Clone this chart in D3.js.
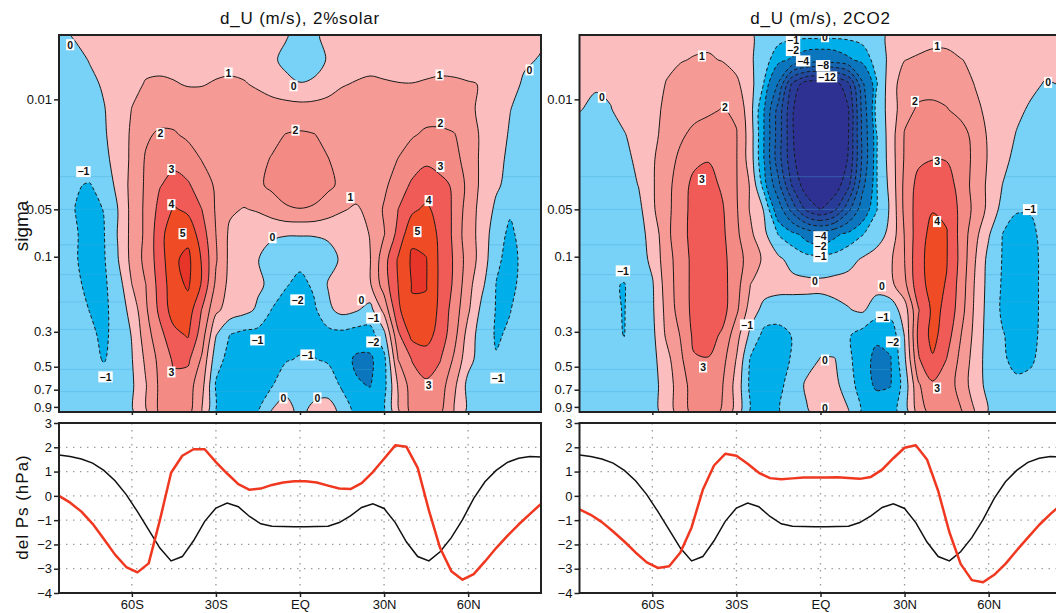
<!DOCTYPE html>
<html>
<head>
<meta charset="utf-8">
<script src="https://cdn.jsdelivr.net/npm/d3@7"></script>
<style>
  body { margin: 0; background: #fff; }
  svg { display: block; }
  text { font-family: "Liberation Sans", Arial, sans-serif; }
</style>
</head>
<body>
<svg id="chart" width="1056" height="613"></svg>
<script>
// ---- data ----
// zonal-mean wind change grid: columns = latitudes, rows = sigma levels (top -> bottom)
const lats = [-86, -80, -75, -70, -65, -60, -55, -50, -45, -40, -35, -30, -25, -20, -15, -10, -5, 0,
  5, 10, 15, 20, 25, 30, 35, 40, 45, 50, 55, 60, 65, 70, 75, 80, 86]
const sigmas = [0.0039, 0.0056, 0.008, 0.0116, 0.0167, 0.024, 0.035, 0.05, 0.072, 0.104, 0.15, 0.218, 0.314, 0.45, 0.65, 0.97]

const solarU = [
  [-0.25, 0.1, 0.3, 0.4, 0.45, 0.5, 0.55, 0.55, 0.55, 0.55, 0.55, 0.55, 0.55, 0.55, 0.55, 0.45, 0.1, -0.5, -0.25, 0.35, 0.55, 0.55, 0.55, 0.55, 0.55, 0.55, 0.55, 0.55, 0.55, 0.55, 0.5, 0.45, 0.35, 0.25, 0.1],
  [-0.5, -0.25, 0.05, 0.35, 0.55, 0.7, 0.8, 0.8, 0.75, 0.75, 0.8, 0.8, 0.8, 0.75, 0.6, 0.2, -0.3, -0.6, -0.5, 0.1, 0.55, 0.7, 0.8, 0.8, 0.75, 0.8, 0.8, 0.8, 0.75, 0.65, 0.5, 0.35, 0.2, 0.1, -0.05],
  [-0.7, -0.45, -0.2, 0.1, 0.45, 0.8, 1.05, 1.1, 1.05, 0.95, 0.97, 1.05, 1.1, 1.05, 0.9, 0.6, 0.3, 0.05, 0.2, 0.6, 0.95, 1.05, 1.1, 1.05, 1.02, 1.01, 1.05, 1.1, 1.1, 1.05, 0.97, 0.65, 0.25, -0.1, -0.4],
  [-0.75, -0.6, -0.3, -0.05, 0.45, 1.02, 1.3, 1.5, 1.55, 1.45, 1.3, 1.25, 1.3, 1.35, 1.35, 1.4, 1.4, 1.4, 1.4, 1.4, 1.35, 1.35, 1.3, 1.3, 1.45, 1.55, 1.6, 1.5, 1.35, 1.15, 0.85, 0.45, 0.02, -0.35, -0.6],
  [-0.8, -0.65, -0.35, -0.1, 0.4, 1.15, 1.85, 2.15, 2.1, 1.8, 1.5, 1.35, 1.4, 1.5, 1.65, 1.8, 2.02, 2.1, 2.02, 1.8, 1.6, 1.45, 1.35, 1.4, 1.6, 1.9, 2.15, 2.2, 2.05, 1.45, 0.85, 0.45, -0.1, -0.5, -0.75],
  [-0.8, -0.75, -0.45, -0.2, 0.3, 1.2, 2.1, 2.5, 2.75, 2.5, 1.95, 1.5, 1.4, 1.55, 1.8, 2.05, 2.3, 2.4, 2.3, 2.02, 1.75, 1.5, 1.4, 1.55, 2.02, 2.5, 2.85, 2.7, 2.35, 1.55, 0.8, 0.35, -0.25, -0.55, -0.7],
  [-0.7, -0.95, -1.05, -0.6, 0.25, 1.3, 2.15, 2.95, 3.3, 3.1, 2.55, 1.85, 1.6, 1.6, 1.85, 2.2, 2.4, 2.45, 2.4, 2.2, 1.8, 1.55, 1.5, 1.8, 2.5, 3.15, 3.4, 3.2, 2.9, 1.7, 0.75, 0.15, -0.3, -0.55, -0.6],
  [-0.65, -1.02, -1.2, -0.98, 0.0, 1.3, 2.2, 3.3, 4.1, 3.8, 3.0, 1.9, 1.15, 0.95, 1.1, 1.5, 1.9, 1.98, 1.9, 1.5, 1.1, 0.85, 1.3, 2.1, 3.0, 3.8, 4.2, 3.6, 2.85, 1.5, 0.65, -0.2, -0.9, -0.65, -0.6],
  [-0.6, -0.95, -1.25, -1.05, 0.05, 1.3, 2.2, 3.6, 4.8, 4.7, 3.5, 2.0, 0.8, 0.5, 0.25, 0.1, 0.05, 0.05, 0.05, 0.1, 0.2, 0.45, 1.05, 1.95, 3.3, 4.8, 4.6, 3.8, 2.8, 1.35, 0.7, -0.7, -1.15, -0.7, -0.55],
  [-0.6, -0.95, -1.3, -1.1, -0.05, 1.3, 2.3, 3.5, 4.85, 5.25, 3.9, 2.1, 0.75, 0.35, 0.02, -0.3, -0.6, -0.65, -0.5, -0.25, 0.1, 0.45, 0.95, 2.6, 4.1, 5.15, 5.05, 3.8, 2.9, 1.55, 0.6, -0.85, -1.25, -0.8, -0.6],
  [-0.55, -0.85, -1.2, -1.15, -0.5, 1.0, 2.0, 3.4, 4.6, 5.15, 3.9, 1.8, 0.7, 0.4, 0.15, -0.2, -0.9, -1.35, -0.8, 0.05, 0.3, 0.55, 0.9, 2.5, 4.0, 5.05, 5.05, 3.8, 2.85, 1.35, 0.2, -1.02, -1.2, -0.75, -0.6],
  [-0.5, -0.75, -1.02, -1.2, -0.6, 0.35, 1.85, 3.25, 4.5, 4.55, 2.95, 1.2, 0.6, 0.3, -0.15, -1.05, -1.55, -1.6, -1.2, -0.2, 0.3, 0.1, -0.35, 1.3, 3.8, 4.9, 4.85, 3.75, 2.55, 1.15, -0.3, -1.05, -1.02, -0.7, -0.6],
  [-0.45, -0.65, -0.85, -1.15, -0.7, 0.05, 1.55, 2.7, 3.7, 4.1, 2.5, 0.05, -1.02, -1.3, -1.35, -1.3, -1.35, -1.45, -1.5, -1.35, -1.3, -1.5, -1.4, -0.3, 2.8, 4.3, 4.4, 3.6, 2.35, 0.6, -0.55, -1.08, -0.9, -0.7, -0.55],
  [-0.4, -0.55, -0.75, -1.05, -0.7, -0.05, 1.2, 2.3, 3.15, 3.2, 1.85, -0.6, -1.35, -1.4, -1.35, -1.25, -1.1, -0.9, -0.95, -1.15, -1.6, -2.15, -2.2, -1.3, 2.0, 3.05, 3.5, 3.05, 1.85, 0.35, -0.5, -0.95, -0.85, -0.6, -0.5],
  [-0.35, -0.45, -0.55, -0.65, -0.5, -0.15, 0.95, 2.2, 2.7, 2.45, 1.35, -1.1, -1.4, -1.45, -1.35, -1.1, -0.2, -0.35, -0.3, -0.3, -1.2, -1.9, -2.05, -1.35, 1.1, 2.5, 2.85, 2.5, 1.25, -0.3, -0.45, -0.6, -0.55, -0.45, -0.4],
  [-0.35, -0.4, -0.45, -0.45, -0.4, -0.15, 0.85, 2.15, 2.55, 2.3, 0.95, -1.2, -1.35, -1.3, -1.1, 0.1, 0.25, -0.2, 0.2, 0.3, -0.2, -1.4, -1.5, -1.3, 0.8, 2.3, 2.6, 2.15, 0.9, -0.25, -0.4, -0.45, -0.45, -0.4, -0.4]
]

const co2U = [
  [0.35, 0.4, 0.45, 0.5, 0.55, 0.6, 0.65, 0.7, 0.75, 0.75, 0.7, 0.55, 0.1, -0.35, -0.6, -0.7, -0.7, -0.65, -0.7, -0.7, -0.6, -0.3, 0.15, 0.5, 0.65, 0.75, 0.75, 0.7, 0.6, 0.55, 0.5, 0.45, 0.4, 0.35, 0.3],
  [0.45, 0.5, 0.55, 0.65, 0.75, 0.8, 0.9, 0.95, 1.05, 1.1, 0.95, 0.65, 0.15, -0.6, -1.6, -2.2, -2.8, -3.0, -2.8, -2.2, -1.6, -0.6, 0.25, 0.98, 1.1, 1.2, 1.2, 1.02, 0.9, 0.8, 0.7, 0.6, 0.45, 0.3, 0.2],
  [0.2, 0.12, 0.2, 0.4, 0.6, 0.8, 1.02, 1.3, 1.5, 1.65, 1.6, 1.2, 0.35, -1.1, -4.2, -10.5, -13.2, -13.5, -13.0, -10.5, -4.3, -1.1, 0.6, 1.45, 1.75, 1.75, 1.6, 1.4, 0.98, 0.8, 0.6, 0.4, 0.2, -0.05, 0.02],
  [0.05, -0.25, -0.05, 0.35, 0.65, 0.85, 1.1, 1.4, 1.6, 1.8, 2.05, 1.85, 0.35, -2.05, -6.8, -11.8, -14.3, -14.5, -14.3, -12.1, -5.3, -0.5, 0.3, 1.75, 2.1, 2.15, 2.05, 1.7, 1.2, 0.8, 0.5, 0.2, -0.12, -0.3, -0.2],
  [-0.45, -0.55, -0.4, -0.05, 0.4, 0.8, 1.25, 1.8, 2.3, 2.55, 2.5, 2.05, 0.5, -2.1, -7.0, -11.8, -14.5, -14.7, -14.5, -12.0, -5.5, -1.05, 0.5, 2.05, 2.5, 2.75, 2.7, 2.4, 1.7, 0.85, 0.45, -0.05, -0.45, -0.55, -0.45],
  [-0.65, -0.7, -0.55, -0.3, 0.25, 0.9, 1.45, 2.25, 2.8, 2.95, 2.75, 2.05, 0.5, -2.1, -7.2, -11.5, -14.2, -14.4, -14.2, -11.8, -5.6, -1.05, 0.45, 2.1, 2.8, 2.98, 2.95, 2.6, 1.75, 0.9, 0.3, -0.3, -0.6, -0.65, -0.6],
  [-0.75, -0.8, -0.7, -0.45, 0.02, 0.9, 1.6, 2.6, 3.25, 3.35, 2.85, 2.05, 0.9, -1.5, -5.5, -10.3, -13.2, -13.5, -13.2, -10.5, -4.5, -1.05, 0.3, 2.25, 3.35, 3.55, 3.5, 2.6, 1.65, 0.8, -0.02, -0.45, -0.8, -0.7, -0.65],
  [-0.8, -0.85, -0.85, -0.55, -0.3, 0.85, 1.65, 2.65, 3.3, 3.45, 3.1, 2.1, 0.9, -0.1, -2.9, -6.8, -10.5, -12.05, -10.5, -6.5, -2.9, -1.05, 0.15, 2.25, 3.5, 3.95, 3.85, 2.75, 1.75, 0.75, -0.35, -0.95, -0.95, -0.75, -0.7],
  [-0.85, -0.9, -0.9, -0.65, -0.35, 0.35, 1.7, 2.7, 3.3, 3.5, 3.2, 2.2, 1.2, 0.2, -1.05, -1.6, -2.5, -3.0, -2.3, -1.6, -1.05, -0.5, 0.3, 2.05, 3.6, 4.3, 4.05, 2.7, 1.35, 0.1, -1.02, -1.25, -1.15, -0.8, -0.7],
  [-0.85, -0.95, -0.95, -0.75, -0.5, 0.25, 1.55, 2.5, 3.3, 3.55, 3.3, 2.4, 1.6, 0.8, 0.2, -0.35, -0.6, -0.6, -0.55, -0.3, 0.1, 0.45, 0.85, 2.0, 3.75, 4.35, 4.05, 2.75, 1.1, -0.3, -1.05, -1.35, -1.25, -0.8, -0.7],
  [-0.85, -0.95, -0.95, -1.02, -0.7, -0.1, 1.45, 2.5, 3.3, 3.55, 3.35, 2.4, 1.0, 0.5, 0.35, 0.3, 0.25, 0.2, 0.3, 0.35, 0.3, 0.4, 0.75, 1.75, 3.7, 4.3, 3.95, 2.6, 0.95, -0.35, -1.1, -1.35, -1.25, -0.8, -0.7],
  [-0.8, -0.9, -0.92, -1.02, -0.65, -0.15, 1.3, 2.45, 3.3, 3.55, 3.4, 2.2, 0.55, -0.35, -0.5, -0.45, -0.4, -0.35, -0.25, -0.05, 0.15, -0.55, -0.6, 0.5, 2.95, 4.2, 3.85, 2.45, 0.85, -0.4, -1.15, -1.4, -1.25, -0.8, -0.7],
  [-0.75, -0.85, -0.9, -1.01, -0.6, -0.25, 1.15, 2.05, 3.25, 3.4, 2.85, 1.4, -0.25, -1.3, -1.35, -0.95, -0.6, -0.5, -0.6, -0.9, -1.4, -1.85, -1.7, 0.05, 3.3, 4.3, 3.5, 2.05, 0.75, -0.45, -0.95, -1.3, -1.2, -0.8, -0.7],
  [-0.7, -0.75, -0.8, -0.85, -0.6, -0.3, 0.65, 1.8, 2.9, 2.95, 2.35, 0.95, -1.1, -1.45, -1.4, -0.9, -0.4, 0.05, 0.05, -0.75, -1.7, -2.2, -2.05, -0.2, 2.9, 3.9, 2.98, 1.75, 0.6, -0.45, -0.9, -1.2, -1.1, -0.75, -0.65],
  [-0.6, -0.65, -0.7, -0.7, -0.6, -0.35, 0.45, 1.55, 2.45, 2.45, 2.05, 0.65, -1.25, -1.4, -1.25, -0.6, 0.15, 0.3, 0.25, -0.5, -1.6, -2.15, -2.05, -0.6, 1.9, 2.85, 2.65, 1.55, 0.55, -0.35, -0.65, -0.85, -0.8, -0.7, -0.65],
  [-0.55, -0.6, -0.6, -0.6, -0.55, -0.3, 0.3, 1.5, 2.3, 2.35, 1.9, 0.55, -1.2, -1.35, -1.05, -0.7, -0.1, 0.3, 0.3, 0.05, -1.2, -1.45, -1.4, -0.6, 1.4, 2.4, 2.45, 2.1, 1.02, -0.1, -0.45, -0.55, -0.55, -0.55, -0.5]
]

// contour levels and the shading of each band (below first level ... above last level)
const levels = [-12, -10, -8, -6, -4, -2, -1, 0, 1, 2, 3, 4, 5]
const bandColors = ['#2e3192', '#283b96', '#22499d', '#1a57a6', '#1466b0', '#0b76bd', '#00aeea', '#78d1f6',
  '#fbbdbd', '#f69a95', '#f38a84', '#f05a57', '#ef4b24', '#e8352a']
// model-level seams that show as faint lines in the blue shading
const seamSigmas = [0.031, 0.05, 0.084, 0.13, 0.194, 0.29, 0.52, 0.72]

// contour labels: [lat, sigma, text]
const solarLabels = [
  [-82, 0.0045, '0'], [-25.5, 0.0068, '1'], [-2.3, 0.0082, '0'], [49.8, 0.007, '1'], [81.9, 0.0065, '0'],
  [-49.8, 0.0165, '2'], [-1.6, 0.0157, '2'], [50.1, 0.0142, '2'],
  [-77.3, 0.0288, '−1'], [-45.9, 0.0279, '3'], [50.1, 0.0267, '3'],
  [18, 0.0421, '1'], [-45.9, 0.0467, '4'], [45.9, 0.044, '4'],
  [-41.9, 0.0714, '5'], [41.9, 0.0693, '5'], [-9.8, 0.0757, '0'],
  [-0.9, 0.188, '−2'], [21.9, 0.188, '0'], [26.2, 0.245, '−1'], [-15.2, 0.338, '−1'], [26.2, 0.348, '−2'],
  [2.7, 0.421, '−1'], [-45.9, 0.54, '3'], [45.9, 0.653, '3'], [-69.4, 0.58, '−1'], [70.5, 0.59, '−1'],
  [-5.9, 0.79, '0'], [6.2, 0.79, '0']
]
const co2Labels = [
  [-78, 0.0097, '0'], [-42.3, 0.0053, '1'], [-34.1, 0.0112, '2'], [1.6, 0.004, '0'],
  [-9.8, 0.0042, '−1'], [-9.8, 0.0049, '−2'], [-6.2, 0.0057, '−4'], [0.9, 0.0061, '−8'], [2.3, 0.0072, '−12'],
  [41.6, 0.0046, '1'], [33.7, 0.0103, '2'], [81.2, 0.0078, '0'],
  [-42.3, 0.0323, '3'], [41.6, 0.0248, '3'], [74.8, 0.0502, '−1'], [41.6, 0.0598, '4'],
  [0, 0.0746, '−4'], [0, 0.0863, '−2'], [0, 0.1, '−1'],
  [-70.5, 0.123, '−1'], [-2, 0.144, '0'], [21.9, 0.153, '0'],
  [-26.2, 0.271, '−1'], [22.3, 0.241, '−1'], [25.9, 0.348, '−2'], [1.6, 0.453, '0'],
  [-41.9, 0.502, '3'], [41.6, 0.683, '3'], [1.6, 0.916, '0']
]

// surface pressure change (hPa)
const psLats = [-86, -82, -78, -74, -70, -66, -62, -58, -54, -50, -46, -42, -38, -34, -30, -26, -22, -18, -14, -10, -6, -2,
  2, 6, 10, 14, 18, 22, 26, 30, 34, 38, 42, 46, 50, 54, 58, 62, 66, 70, 74, 78, 82, 86]
const psBlack = [1.68, 1.62, 1.52, 1.35, 1.05, 0.62, 0.05, -0.65, -1.4, -2.15, -2.68, -2.5, -1.85, -1.05, -0.5, -0.3, -0.45, -0.85, -1.15, -1.25, -1.26, -1.27,
  -1.27, -1.26, -1.25, -1.1, -0.82, -0.48, -0.33, -0.52, -1.1, -1.9, -2.5, -2.68, -2.3, -1.72, -0.98, -0.1, 0.58, 1.05, 1.38, 1.55, 1.62, 1.6]
const psSolar = [0.0, -0.28, -0.65, -1.15, -1.78, -2.42, -2.93, -3.15, -2.78, -1.0, 0.95, 1.65, 1.92, 1.92, 1.39, 0.92, 0.48, 0.25, 0.3, 0.45, 0.55, 0.6,
  0.6, 0.55, 0.42, 0.3, 0.28, 0.52, 0.98, 1.53, 2.08, 2.02, 1.15, -0.6, -2.15, -3.1, -3.45, -3.22, -2.7, -2.15, -1.65, -1.18, -0.75, -0.33]
const psCO2 = [-0.56, -0.78, -1.08, -1.47, -1.88, -2.33, -2.74, -2.97, -2.9, -2.33, -1.3, 0.25, 1.25, 1.73, 1.65, 1.32, 0.95, 0.73, 0.68, 0.72, 0.76, 0.76,
  0.76, 0.77, 0.74, 0.7, 0.78, 1.08, 1.55, 1.98, 2.08, 1.5, 0.2, -1.5, -2.8, -3.47, -3.56, -3.25, -2.8, -2.25, -1.72, -1.2, -0.75, -0.35]

// axis ticks
const sigmaTicks = [0.01, 0.05, 0.1, 0.3, 0.5, 0.7, 0.9]
const latTicks = [-60, -30, 0, 30, 60]
const latTickLabels = ['60S', '30S', 'EQ', '30N', '60N']
const psTicks = [3, 2, 1, 0, -1, -2, -3, -4]

// ---- layout ----
const panelW = 482
const topY = [35, 412]
const botY = [423, 593]
const svg = d3.select('#chart')
svg.append('rect').attr('width', 1056).attr('height', 613).attr('fill', '#fff')
const defs = svg.append('defs')

const drawPanel = (p) => {
  const x = d3.scaleLinear().domain([lats[0], lats[lats.length - 1]]).range([p.x0, p.x0 + panelW])
  const ySig = d3.scaleLog().domain([sigmas[0], sigmas[sigmas.length - 1]]).range(topY)
  const yPs = d3.scaleLinear().domain([-4, 3]).range([botY[1], botY[0]])

  // grid coordinates (d3.contours puts values at cell centres) -> pixels
  const nx = lats.length, ny = sigmas.length
  const gridToPx = (c, n, arr, sc) => {
    const u = Math.max(0, Math.min(n - 1, c - 0.5))
    const i = Math.min(n - 2, Math.floor(u))
    const f = u - i
    return sc(arr[i]) + f * (sc(arr[i + 1]) - sc(arr[i]))
  }
  const gx = c => gridToPx(c, nx, lats, x)
  const gy = c => gridToPx(c, ny, sigmas, ySig)

  defs.append('clipPath').attr('id', p.id)
    .append('rect').attr('x', p.x0).attr('y', topY[0]).attr('width', panelW).attr('height', topY[1] - topY[0])

  const g = svg.append('g').attr('clip-path', `url(#${p.id})`)

  const values = p.field.flat()
  const vmin = d3.min(values), vmax = d3.max(values)
  const used = levels.filter(l => l > vmin && l <= vmax)
  const baseBand = levels.filter(l => l <= vmin).length

  g.append('rect')
    .attr('x', p.x0).attr('y', topY[0]).attr('width', panelW).attr('height', topY[1] - topY[0])
    .attr('fill', bandColors[baseBand])

  const contours = d3.contours().size([nx, ny]).thresholds(used)(values)
  const ring = d3.line().x(d => gx(d[0])).y(d => gy(d[1])).curve(d3.curveCatmullRomClosed.alpha(0.5))
  const mpPath = mp => mp.coordinates.map(poly => poly.map(r => ring(r.slice(0, -1))).join('')).join('')

  //filled bands: negative ones, then the seam lines, then positive ones on top
  const drawBands = list => g.selectAll(null)
    .data(list)
    .enter().append('path')
    .attr('d', mpPath)
    .attr('fill', d => bandColors[levels.indexOf(d.value) + 1])
    .attr('stroke', 'none')
  drawBands(contours.filter(c => c.value < 0))
  g.selectAll('line.seam')
    .data(seamSigmas)
    .enter().append('line')
    .attr('class', 'seam')
    .attr('x1', p.x0).attr('x2', p.x0 + panelW)
    .attr('y1', d => ySig(d)).attr('y2', d => ySig(d))
    .attr('stroke', '#3fa9de').attr('stroke-opacity', 0.35).attr('stroke-width', 1)
  drawBands(contours.filter(c => c.value >= 0))

  //contour lines, dashed when negative
  g.selectAll('path.iso')
    .data(contours)
    .enter().append('path')
    .attr('class', 'iso')
    .attr('d', mpPath)
    .attr('fill', 'none')
    .attr('stroke', '#1a1a1a')
    .attr('stroke-width', 1)
    .attr('stroke-dasharray', d => d.value < 0 ? '3.5,2.5' : null)

  //contour labels
  const lab = g.selectAll('g.lab')
    .data(p.labels)
    .enter().append('g')
    .attr('class', 'lab')
    .attr('transform', d => `translate(${x(d[0])}, ${ySig(d[1])})`)
  lab.append('rect')
    .attr('x', d => -(d[2].length * 6.2 + 2) / 2)
    .attr('y', -5.5)
    .attr('width', d => d[2].length * 6.2 + 2)
    .attr('height', 11)
    .attr('fill', '#fff')
  lab.append('text')
    .attr('text-anchor', 'middle')
    .attr('dy', '0.36em')
    .attr('font-size', '10.5px')
    .attr('font-weight', 'bold')
    .attr('fill', '#111')
    .text(d => d[2])

  //frame and axes of the upper panel
  svg.append('rect')
    .attr('x', p.x0).attr('y', topY[0]).attr('width', panelW).attr('height', topY[1] - topY[0])
    .attr('fill', 'none').attr('stroke', '#222').attr('stroke-width', 2)

  const yAxisTop = svg.append('g')
    .attr('transform', `translate(${p.x0}, 0)`)
    .call(d3.axisLeft(ySig).tickValues(sigmaTicks).tickFormat(d => String(d)).tickSize(5).tickPadding(2))
  const xAxisTop = svg.append('g')
    .attr('transform', `translate(0, ${topY[1]})`)
    .call(d3.axisBottom(x).tickValues(latTicks).tickFormat('').tickSize(3))

  //lower panel: surface pressure
  const gb = svg.append('g')
  gb.selectAll('line.hgrid')
    .data(psTicks.filter(v => v < 3 && v > -4))
    .enter().append('line')
    .attr('x1', p.x0).attr('x2', p.x0 + panelW)
    .attr('y1', d => yPs(d)).attr('y2', d => yPs(d))
    .attr('stroke', '#9a9a9a').attr('stroke-width', 1.3).attr('stroke-dasharray', '1.4,5.6')
  gb.selectAll('line.vgrid')
    .data(latTicks)
    .enter().append('line')
    .attr('y1', botY[0]).attr('y2', botY[1])
    .attr('x1', d => x(d)).attr('x2', d => x(d))
    .attr('stroke', '#9a9a9a').attr('stroke-width', 1.3).attr('stroke-dasharray', '1.4,5.6')

  const psLine = vals => d3.line().x((d, i) => x(psLats[i])).y(d => yPs(d))(vals)
  gb.append('path')
    .attr('d', psLine(psBlack))
    .attr('fill', 'none').attr('stroke', '#111').attr('stroke-width', 1.5)
  gb.append('path')
    .attr('d', psLine(p.red))
    .attr('fill', 'none').attr('stroke', '#f0371f').attr('stroke-width', 2.5).attr('stroke-linejoin', 'round')

  svg.append('rect')
    .attr('x', p.x0).attr('y', botY[0]).attr('width', panelW).attr('height', botY[1] - botY[0])
    .attr('fill', 'none').attr('stroke', '#222').attr('stroke-width', 2)

  const yAxisBot = svg.append('g')
    .attr('transform', `translate(${p.x0}, 0)`)
    .call(d3.axisLeft(yPs).tickValues(psTicks).tickFormat(d3.format('d')).tickSize(5).tickPadding(2))
  const xAxisBot = svg.append('g')
    .attr('transform', `translate(0, ${botY[1]})`)
    .call(d3.axisBottom(x).tickValues(latTicks).tickFormat((d, i) => latTickLabels[i]).tickSize(4).tickPadding(3))

  ;[yAxisTop, xAxisTop, yAxisBot, xAxisBot].forEach(a => {
    a.select('.domain').remove()
    a.selectAll('line').attr('stroke', '#222').attr('stroke-width', 1.5)
    a.selectAll('text').attr('font-size', '13px').attr('fill', '#111')
      .attr('font-family', '"Liberation Sans", Arial, sans-serif')
  })

  //panel title
  svg.append('text')
    .attr('x', p.x0 + panelW / 2)
    .attr('y', 24)
    .attr('text-anchor', 'middle')
    .attr('font-size', '17px')
    .attr('letter-spacing', '0.8px')
    .attr('font-family', '"DejaVu Sans", sans-serif')
    .attr('fill', '#111')
    .text(p.title)
}

drawPanel({ id: 'clipL', x0: 59, title: 'd_U (m/s), 2%solar', field: solarU, labels: solarLabels, red: psSolar })
drawPanel({ id: 'clipR', x0: 579.5, title: 'd_U (m/s), 2CO2', field: co2U, labels: co2Labels, red: psCO2 })

//y-axis titles
svg.append('text')
  .attr('transform', 'translate(28, 226) rotate(-90)')
  .attr('text-anchor', 'middle')
  .attr('font-size', '19px')
  .attr('font-family', '"DejaVu Sans", sans-serif')
  .attr('fill', '#111')
  .text('sigma')
svg.append('text')
  .attr('transform', 'translate(28, 507) rotate(-90)')
  .attr('text-anchor', 'middle')
  .attr('font-size', '17px')
  .attr('letter-spacing', '1px')
  .attr('font-family', '"DejaVu Sans", sans-serif')
  .attr('fill', '#111')
  .text('del Ps (hPa)')
</script>
</body>
</html>
